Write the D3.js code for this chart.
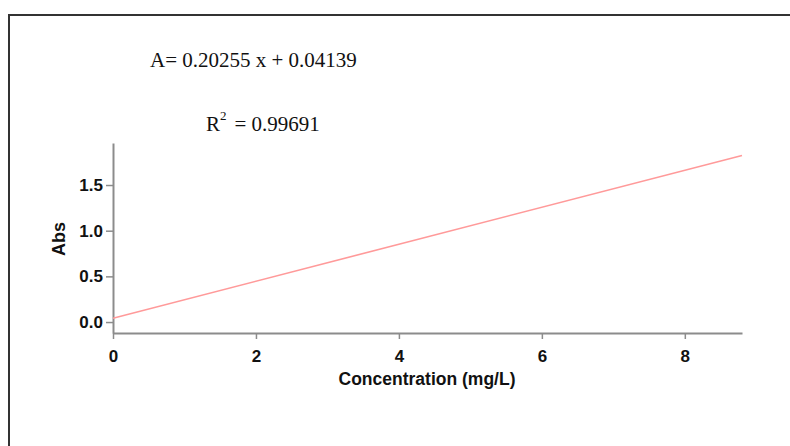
<!DOCTYPE html>
<html lang="en">
<head>
    <meta charset="UTF-8">
    <title>Calibration curve</title>
    <script src="https://d3js.org/d3.v7.min.js"></script>
    <style>
        body {
            margin: 0;
            background: #fff;
            font-family: "Liberation Sans", Arial, sans-serif;
        }
        svg {
            display: block;
        }
        .axis path, .axis line {
            stroke: #8c8c8c;
        }
    </style>
</head>
<body>
    <div id="container"></div>

    <script>
        // fitted line
        const lineX = [0, 8.8];
        const lineY = [0.0414, 1.824];

        const xTicks = [0, 2, 4, 6, 8];
        const yTicks = [0.0, 0.5, 1.0, 1.5];

        const equation = "A= 0.20255 x + 0.04139";
        const rSquared = "0.99691";

        const width = 790, height = 446;

        const svg = d3.select('#container').append('svg')
            .attr('width', width)
            .attr('height', height);

        // frame (top and left edges)
        svg.append('path')
            .attr('d', 'M9,446 V15 H790')
            .attr('fill', 'none')
            .attr('stroke', '#333')
            .attr('stroke-width', 2);

        const x = d3.scaleLinear()
            .domain([0, 8.8])
            .range([113, 742]);

        const y = d3.scaleLinear()
            .domain([-0.12, 1.96])
            .range([333, 143]);

        // x axis
        const xAxis = svg.append('g')
            .attr('class', 'axis')
            .attr('transform', 'translate(0,333)')
            .call(d3.axisBottom(x).tickValues(xTicks).tickSize(6).tickSizeOuter(0).tickFormat(d3.format('d')));
        xAxis.select('.domain').attr('stroke-width', 2);
        xAxis.selectAll('.tick line').attr('stroke-width', 1.5);
        xAxis.selectAll('text')
            .attr('y', 17)
            .attr('font-size', 17)
            .attr('font-weight', 'bold')
            .attr('font-family', '"Liberation Sans", Arial, sans-serif')
            .attr('fill', '#111');

        // y axis
        const yAxis = svg.append('g')
            .attr('class', 'axis')
            .attr('transform', 'translate(113,0)')
            .call(d3.axisLeft(y).tickValues(yTicks).tickSize(7).tickSizeOuter(0).tickFormat(d3.format('.1f')));
        yAxis.select('.domain').attr('stroke-width', 2);
        yAxis.selectAll('.tick line').attr('stroke-width', 1.5);
        yAxis.selectAll('text')
            .attr('x', -10)
            .attr('font-size', 17)
            .attr('font-weight', 'bold')
            .attr('font-family', '"Liberation Sans", Arial, sans-serif')
            .attr('fill', '#111');

        // axis titles
        svg.append('text')
            .attr('x', 427)
            .attr('y', 385)
            .attr('text-anchor', 'middle')
            .attr('font-size', 17.5)
            .attr('font-weight', 'bold')
            .attr('fill', '#111')
            .text('Concentration (mg/L)');

        svg.append('text')
            .attr('transform', 'translate(65,239) rotate(-90)')
            .attr('text-anchor', 'middle')
            .attr('font-size', 18)
            .attr('font-weight', 'bold')
            .attr('fill', '#111')
            .text('Abs');

        // regression line
        const pts = lineX.map((d, i) => [d, lineY[i]]);
        svg.append('path')
            .datum(pts)
            .attr('fill', 'none')
            .attr('stroke', '#ff9a9a')
            .attr('stroke-width', 1.6)
            .attr('d', d3.line().x(d => x(d[0])).y(d => y(d[1])));

        // equation text
        svg.append('text')
            .attr('x', 150)
            .attr('y', 67)
            .attr('font-family', '"Liberation Serif", "Times New Roman", serif')
            .attr('font-size', 21)
            .attr('fill', '#111')
            .text(equation);

        const r2 = svg.append('text')
            .attr('x', 206)
            .attr('y', 131)
            .attr('font-family', '"Liberation Serif", "Times New Roman", serif')
            .attr('font-size', 21)
            .attr('fill', '#111');
        r2.append('tspan').text('R');
        r2.append('tspan').attr('dy', -11).attr('font-size', 13).text('2');
        r2.append('tspan').attr('dy', 11).attr('dx', 8).text('= ' + rSquared);
    </script>
</body>
</html>
